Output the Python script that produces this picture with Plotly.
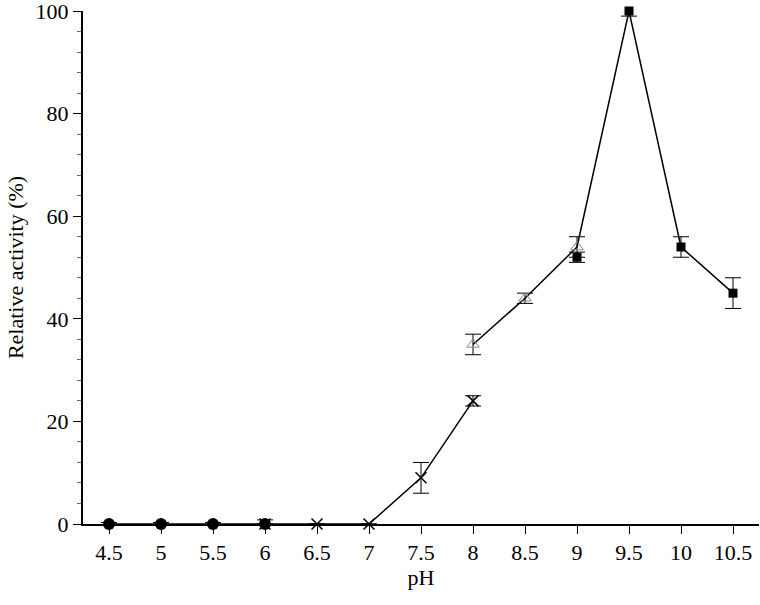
import plotly.graph_objects as go

# Data
ph_circle = [4.5, 5, 5.5, 6]
act_circle = [0, 0, 0, 0]
err_circle = [0.3, 0.3, 0.3, 0.8]

ph_cross = [6, 6.5, 7, 7.5, 8]
act_cross = [0, 0, 0, 9, 24]
err_cross = [0, 0, 0, 3, 1]

ph_tri = [8, 8.5, 9]
act_tri = [35, 44, 54]
err_tri = [2, 1, 2]

ph_sq = [9, 9.5, 10, 10.5]
act_sq = [52, 100, 54, 45]
err_sq = [1, 1, 2, 3]

x_ticks = [4.5, 5, 5.5, 6, 6.5, 7, 7.5, 8, 8.5, 9, 9.5, 10, 10.5]
x_ticklabels = ["4.5", "5", "5.5", "6", "6.5", "7", "7.5", "8", "8.5", "9", "9.5", "10", "10.5"]

# connecting line: triangle series end -> square peak and beyond
ph_link = [ph_tri[-1]] + ph_sq[1:]
act_link = [act_tri[-1]] + act_sq[1:]

fig = go.Figure()

def eb(vals):
    return dict(type="data", array=vals, visible=True, color="black", thickness=1, width=8)

LINE = dict(color="black", width=1.5)

fig.add_trace(go.Scatter(x=ph_link, y=act_link, mode="lines", line=LINE,
                         showlegend=False, cliponaxis=False))
fig.add_trace(go.Scatter(x=ph_circle, y=act_circle, mode="lines+markers", line=LINE,
                         marker=dict(symbol="circle", size=12, color="black"),
                         error_y=eb(err_circle), showlegend=False, cliponaxis=False))
fig.add_trace(go.Scatter(x=ph_cross, y=act_cross, mode="lines+markers", line=LINE,
                         marker=dict(symbol="x-thin-open", size=11, color="black",
                                     line=dict(color="black", width=1.5)),
                         error_y=eb(err_cross), showlegend=False, cliponaxis=False))
fig.add_trace(go.Scatter(x=ph_tri, y=act_tri, mode="lines+markers", line=LINE,
                         marker=dict(symbol="triangle-up-open", size=11, color="#888888",
                                     line=dict(color="#888888", width=1)),
                         error_y=eb(err_tri), showlegend=False, cliponaxis=False))
fig.add_trace(go.Scatter(x=ph_sq, y=act_sq, mode="markers",
                         marker=dict(symbol="square", size=9, color="black"),
                         error_y=eb(err_sq), showlegend=False, cliponaxis=False))

fig.update_layout(
    width=760, height=605,
    margin=dict(l=83, r=1, t=11, b=81),
    plot_bgcolor="white", paper_bgcolor="white",
    font=dict(family="Liberation Serif", size=22, color="black"),
    xaxis=dict(
        range=[4.25, 10.75], tickmode="array", tickvals=x_ticks, ticktext=x_ticklabels,
        showgrid=False, zeroline=False, showline=True, linecolor="black", linewidth=2,
        ticks="outside", ticklen=8, tickcolor="black", tickwidth=1, automargin=False,
        ticklabeloverflow="allow",
        title=dict(text="pH", font=dict(size=22), standoff=5),
    ),
    yaxis=dict(
        range=[0, 100], tickmode="linear", tick0=0, dtick=20,
        showgrid=False, zeroline=False, showline=True, linecolor="black", linewidth=2,
        ticks="outside", ticklen=8, tickcolor="black", tickwidth=1, automargin=False,
        ticklabeloverflow="allow",
        minor=dict(dtick=4, ticks="outside", ticklen=4, tickcolor="#666666", showgrid=False),
        title=dict(text="Relative activity (%)", font=dict(size=22), standoff=6),
    ),
)

fig.write_html("out.html", config={"displayModeBar": False},
               post_script="document.body.style.margin='0';document.body.style.overflow='hidden';")
